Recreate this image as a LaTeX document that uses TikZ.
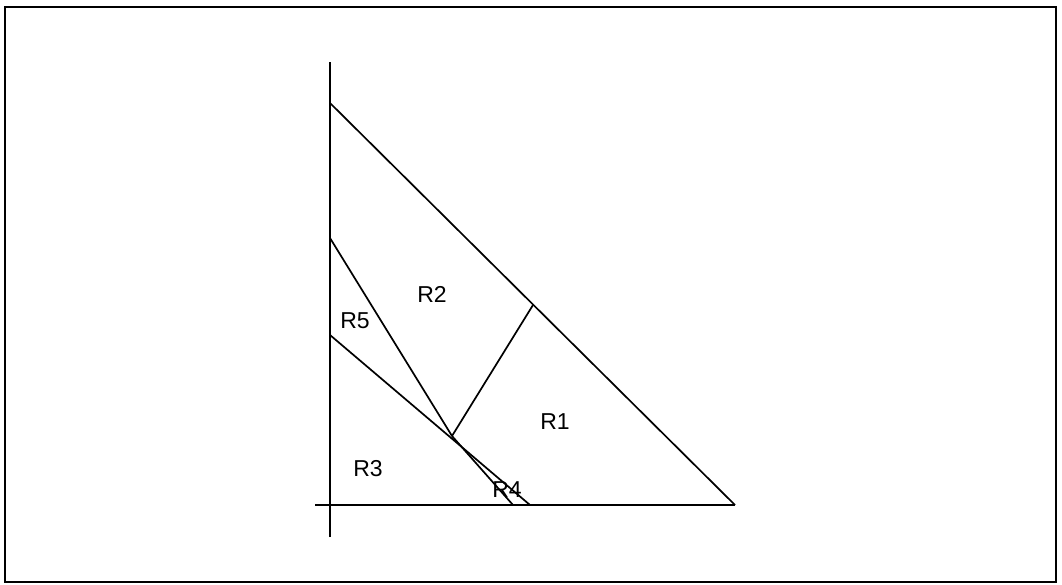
\documentclass[tikz,border=0pt]{standalone}
\usepackage{fontspec}
\setmainfont{Liberation Sans}
\usetikzlibrary{positioning}

\begin{document}
\begin{tikzpicture}[x=1pt, y=-1pt,
  edge/.style={line width=1.7pt},
  axis/.style={line width=2.6pt},
  lab/.style={font=\fontsize{23}{26}\selectfont, inner sep=0pt}
]
\useasboundingbox (0,0) rectangle (1062,584);
\draw[line width=2pt] (5,7) rectangle (1056,582);
% axes
\coordinate (O) at (330,505);
\coordinate (ytop) at (330,62);
\coordinate (ybot) at (330,537);
\coordinate (xleft) at (315,505);
\coordinate (X) at (735,505);
\draw[axis] (ybot) -- (ytop);
\draw[line width=1.2pt] (xleft) -- (O);
\draw[axis] (O) -- (X);
% triangle and cuts
\coordinate (Y) at (330,103);
\coordinate (a) at (330,238);
\coordinate (b) at (330,335);
\coordinate (M) at (452,436);
\coordinate (H) at (533,305);
\coordinate (c) at (513,505);
\coordinate (d) at (530,505);
\draw[edge] (Y) -- (X);
\draw[edge] (a) -- (M);
\draw[edge] (M) -- (H);
\draw[edge] (b) -- (d);
\draw[edge] (M) -- (c);
% regions
\node[lab] (R1) at (555,422) {R1};
\node[lab] (R2) at (432,294) {R2};
\node[lab] (R3) at (368,469) {R3};
\node[lab] (R4) at (507,490) {R4};
\node[lab] (R5) at (355,321) {R5};
\end{tikzpicture}
\end{document}
